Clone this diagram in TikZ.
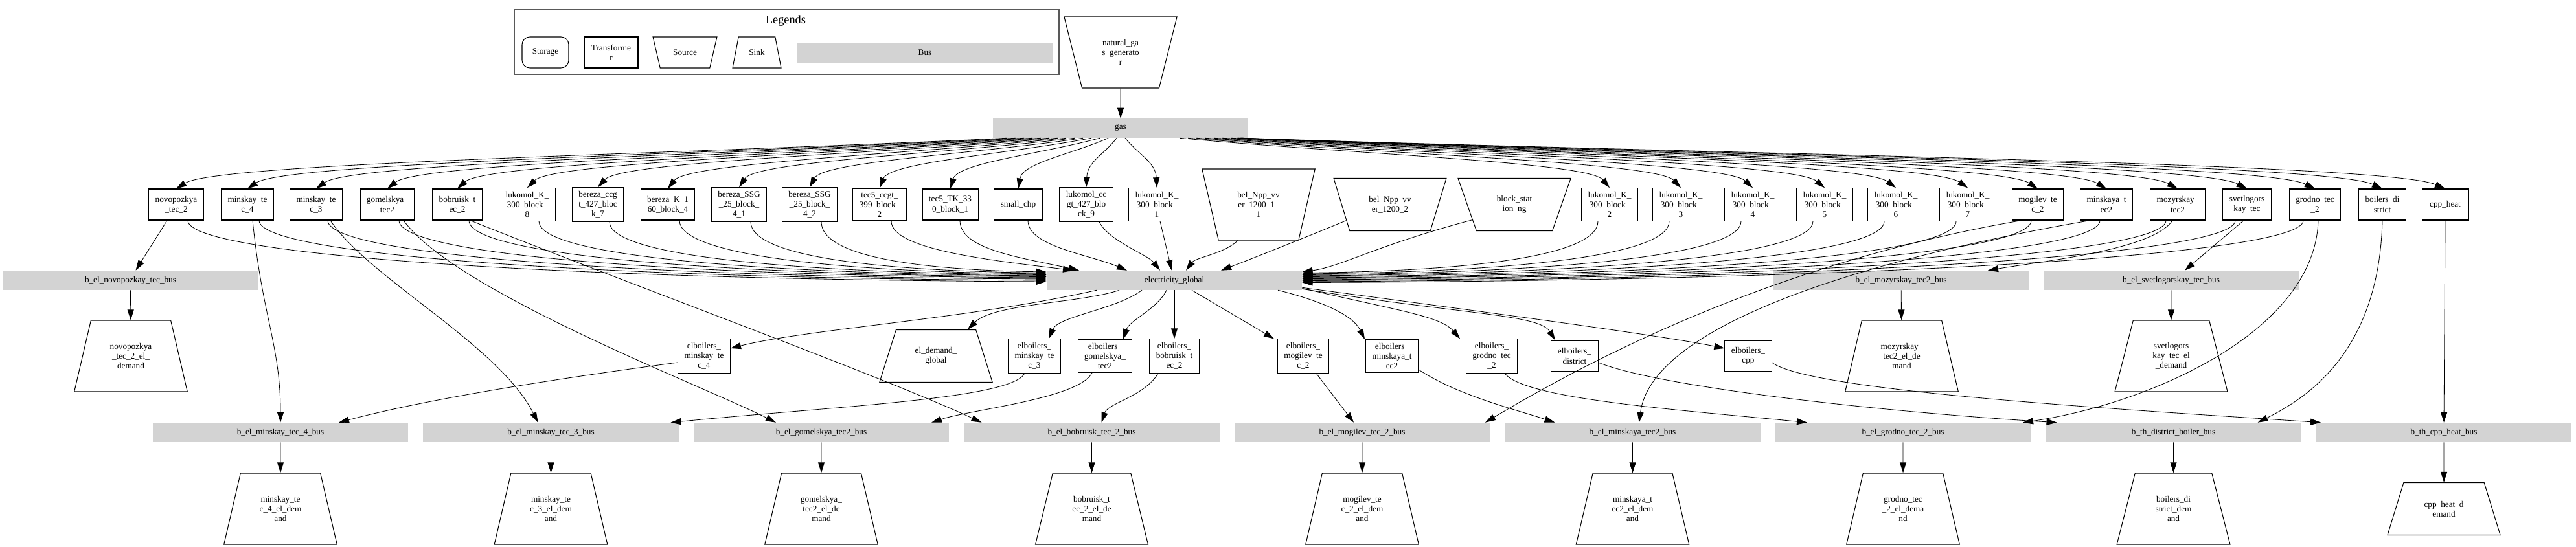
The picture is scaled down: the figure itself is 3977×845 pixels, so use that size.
\documentclass[tikz,border=0pt]{standalone}
\usepackage{fontspec}
\setmainfont{Liberation Serif}
\usetikzlibrary{arrows.meta,shapes.geometric,calc}
\definecolor{busgray}{RGB}{211,211,211}

\begin{document}
\begin{tikzpicture}[x=0.025cm,y=-0.025cm,
  font=\fontsize{9.4}{10.7}\selectfont,
  >={Triangle[length=0.4cm,width=0.25cm]},
  trafo/.style={draw,line width=0.75pt,rectangle,align=center,minimum width=1.8cm,minimum height=1.2cm,inner xsep=0.25cm,inner ysep=4pt},
  busbar/.style={fill=busgray,rectangle,minimum width=9.85cm,minimum height=0.75cm,inner sep=0pt},
  src/.style={draw,line width=0.75pt,trapezium,trapezium stretches=true,shape border rotate=180,trapezium left angle=72,trapezium right angle=72,minimum width=4.375cm,minimum height=2.75cm,align=center,inner sep=2pt},
  srcsmall/.style={src,trapezium left angle=66,trapezium right angle=66,minimum height=2.025cm},
  snk/.style={draw,line width=0.75pt,trapezium,trapezium stretches=true,trapezium left angle=72,trapezium right angle=72,minimum width=4.375cm,minimum height=2.75cm,align=center,inner sep=2pt},
  snksmall/.style={snk,trapezium left angle=66,trapezium right angle=66,minimum height=2.025cm},
  flow/.style={->,line width=0.6pt}]
\useasboundingbox (0,0) rectangle (3977,845);

\draw[line width=1pt,draw=black!65] (794,15) rectangle (1635,115);
\node[font=\fontsize{13}{15}\selectfont] (legtitle) at (1213,32) {Legends};
\node[draw,line width=0.75pt,rounded corners=0.3cm,minimum width=1.8cm,minimum height=1.2cm] (legstorage) at (842,81) {Storage};
\node[trafo,minimum width=2.075cm] (legtrafo) at (943.5,81) {Transforme\\r};
\node[src,minimum width=2.475cm,minimum height=1.2cm,trapezium left angle=67,trapezium right angle=67] (legsource) at (1057.5,81) {Source};
\node[snk,minimum width=1.875cm,minimum height=1.2cm] (legsink) at (1168.5,81) {Sink};
\node[busbar,minimum height=0.775cm] (legbus) at (1428,81.5) {Bus};

\node[src] (natgas) at (1730,81) {natural\_ga\\s\_generato\\r};
\node[busbar] (gas) at (1730,198) {gas};

\node[trafo] (novo) at (272,316) {novopozkya\\\_tec\_2};
\node[trafo] (mtecfour) at (382,316) {minskay\_te\\c\_4};
\node[trafo] (mtecthree) at (488,316) {minskay\_te\\c\_3};
\node[trafo] (gomel) at (598,316) {gomelskya\_\\tec2};
\node[trafo] (bobr) at (706,316) {bobruisk\_t\\ec\_2};
\node[trafo] (lukeight) at (814,316) {lukomol\_K\_\\300\_block\_\\8};
\node[trafo] (berccgt) at (923,316) {bereza\_ccg\\t\_427\_bloc\\k\_7};
\node[trafo] (berkone) at (1031,316) {bereza\_K\_1\\60\_block\_4};
\node[trafo] (berssgone) at (1141,316) {bereza\_SSG\\\_25\_block\_\\4\_1};
\node[trafo] (berssgtwo) at (1250,316) {bereza\_SSG\\\_25\_block\_\\4\_2};
\node[trafo] (tecccgt) at (1358,316) {tec5\_ccgt\_\\399\_block\_\\2};
\node[trafo] (tectk) at (1467,316) {tec5\_TK\_33\\0\_block\_1};
\node[trafo] (smallchp) at (1572,316) {small\_chp};
\node[trafo] (lukccgt) at (1677,316) {lukomol\_cc\\gt\_427\_blo\\ck\_9};
\node[trafo] (lukone) at (1786,316) {lukomol\_K\_\\300\_block\_\\1};
\node[src] (npone) at (1943,316) {bel\_Npp\_vv\\er\_1200\_1\_\\1};
\node[srcsmall] (nptwo) at (2146,316) {bel\_Npp\_vv\\er\_1200\_2};
\node[srcsmall] (blockst) at (2338,316) {block\_stat\\ion\_ng};
\node[trafo] (luktwo) at (2485,316) {lukomol\_K\_\\300\_block\_\\2};
\node[trafo] (lukthree) at (2595,316) {lukomol\_K\_\\300\_block\_\\3};
\node[trafo] (lukfour) at (2706,316) {lukomol\_K\_\\300\_block\_\\4};
\node[trafo] (lukfive) at (2817,316) {lukomol\_K\_\\300\_block\_\\5};
\node[trafo] (luksix) at (2927,316) {lukomol\_K\_\\300\_block\_\\6};
\node[trafo] (lukseven) at (3038,316) {lukomol\_K\_\\300\_block\_\\7};
\node[trafo] (mogilev) at (3146,316) {mogilev\_te\\c\_2};
\node[trafo] (minskaya) at (3252,316) {minskaya\_t\\ec2};
\node[trafo] (mozyr) at (3362,316) {mozyrskay\_\\tec2};
\node[trafo] (svetl) at (3469,316) {svetlogors\\kay\_tec};
\node[trafo] (grodno) at (3574,316) {grodno\_tec\\\_2};
\node[trafo] (boildist) at (3678,316) {boilers\_di\\strict};
\node[trafo] (cppheat) at (3775,316) {cpp\_heat};

\node[busbar] (bnovo) at (201.5,433) {b\_el\_novopozkay\_tec\_bus};
\node[busbar] (elglob) at (1813,433) {electricity\_global};
\node[busbar] (bmozyr) at (2935,433) {b\_el\_mozyrskay\_tec2\_bus};
\node[busbar] (bsvetl) at (3352,433) {b\_el\_svetlogorskay\_tec\_bus};

\node[snk] (novodem) at (202,550) {novopozkya\\\_tec\_2\_el\_\\demand};
\node[trafo] (ebmtecfour) at (1087,550) {elboilers\_\\minskay\_te\\c\_4};
\node[snksmall] (eldem) at (1445,550) {el\_demand\_\\global};
\node[trafo] (ebmtecthree) at (1597,550) {elboilers\_\\minskay\_te\\c\_3};
\node[trafo] (ebgomel) at (1706,550) {elboilers\_\\gomelskya\_\\tec2};
\node[trafo] (ebbobr) at (1813,550) {elboilers\_\\bobruisk\_t\\ec\_2};
\node[trafo] (ebmogilev) at (2012,550) {elboilers\_\\mogilev\_te\\c\_2};
\node[trafo] (ebminskaya) at (2149,550) {elboilers\_\\minskaya\_t\\ec2};
\node[trafo] (ebgrodno) at (2303,550) {elboilers\_\\grodno\_tec\\\_2};
\node[trafo] (ebdist) at (2431,550) {elboilers\_\\district};
\node[trafo] (ebcpp) at (2699,550) {elboilers\_\\cpp};
\node[snk] (mozyrdem) at (2936,550) {mozyrskay\_\\tec2\_el\_de\\mand};
\node[snk] (svetldem) at (3352,550) {svetlogors\\kay\_tec\_el\\\_demand};

\node[busbar] (bmtecfour) at (433,668) {b\_el\_minskay\_tec\_4\_bus};
\node[busbar] (bmtecthree) at (850.5,668) {b\_el\_minskay\_tec\_3\_bus};
\node[busbar] (bgomel) at (1268,668) {b\_el\_gomelskya\_tec2\_bus};
\node[busbar] (bbobr) at (1685.5,668) {b\_el\_bobruisk\_tec\_2\_bus};
\node[busbar] (bmogilev) at (2103,668) {b\_el\_mogilev\_tec\_2\_bus};
\node[busbar] (bminskaya) at (2520.5,668) {b\_el\_minskaya\_tec2\_bus};
\node[busbar] (bgrodno) at (2938,668) {b\_el\_grodno\_tec\_2\_bus};
\node[busbar] (bdist) at (3355.5,668) {b\_th\_district\_boiler\_bus};
\node[busbar] (bcpp) at (3773,668) {b\_th\_cpp\_heat\_bus};

\node[snk] (dmtecfour) at (433,786) {minskay\_te\\c\_4\_el\_dem\\and};
\node[snk] (dmtecthree) at (850.5,786) {minskay\_te\\c\_3\_el\_dem\\and};
\node[snk] (dgomel) at (1268,786) {gomelskya\_\\tec2\_el\_de\\mand};
\node[snk] (dbobr) at (1685.5,786) {bobruisk\_t\\ec\_2\_el\_de\\mand};
\node[snk] (dmogilev) at (2103,786) {mogilev\_te\\c\_2\_el\_dem\\and};
\node[snk] (dminskaya) at (2520.5,786) {minskaya\_t\\ec2\_el\_dem\\and};
\node[snk] (dgrodno) at (2938,786) {grodno\_tec\\\_2\_el\_dema\\nd};
\node[snk] (ddist) at (3355.5,786) {boilers\_di\\strict\_dem\\and};
\node[snksmall] (dcpp) at (3773,786) {cpp\_heat\_d\\emand};

\draw[flow] (natgas) -- (gas);

\draw[flow] ($(gas.south)+(-175,0)$) .. controls +(-513,25) and +(64,-40) .. (novo.north);
\draw[flow] ($(gas.south)+(-162,0)$) .. controls +(-474,25) and +(59,-40) .. (mtecfour.north);
\draw[flow] ($(gas.south)+(-149,0)$) .. controls +(-437,25) and +(55,-40) .. (mtecthree.north);
\draw[flow] ($(gas.south)+(-136,0)$) .. controls +(-398,25) and +(50,-40) .. (gomel.north);
\draw[flow] ($(gas.south)+(-123,0)$) .. controls +(-360,25) and +(45,-40) .. (bobr.north);
\draw[flow] ($(gas.south)+(-110,0)$) .. controls +(-322,25) and +(40,-40) .. (lukeight.north);
\draw[flow] ($(gas.south)+(-97,0)$) .. controls +(-284,25) and +(36,-40) .. (berccgt.north);
\draw[flow] ($(gas.south)+(-84,0)$) .. controls +(-246,25) and +(31,-40) .. (berkone.north);
\draw[flow] ($(gas.south)+(-71,0)$) .. controls +(-207,25) and +(26,-40) .. (berssgone.north);
\draw[flow] ($(gas.south)+(-58,0)$) .. controls +(-169,25) and +(21,-40) .. (berssgtwo.north);
\draw[flow] ($(gas.south)+(-45,0)$) .. controls +(-131,25) and +(16,-40) .. (tecccgt.north);
\draw[flow] ($(gas.south)+(-32,0)$) .. controls +(-92,25) and +(12,-40) .. (tectk.north);
\draw[flow] ($(gas.south)+(-19,0)$) .. controls +(-56,25) and +(7,-40) .. (smallchp.north);
\draw[flow] ($(gas.south)+(-6,0)$) .. controls +(-19,25) and +(2,-40) .. (lukccgt.north);
\draw[flow] ($(gas.south)+(7,0)$) .. controls +(20,25) and +(-2,-40) .. (lukone.north);
\draw[flow] ($(gas.south)+(91,0)$) .. controls +(266,25) and +(-33,-40) .. (luktwo.north);
\draw[flow] ($(gas.south)+(104,0)$) .. controls +(304,25) and +(-38,-40) .. (lukthree.north);
\draw[flow] ($(gas.south)+(117,0)$) .. controls +(344,25) and +(-43,-40) .. (lukfour.north);
\draw[flow] ($(gas.south)+(130,0)$) .. controls +(383,25) and +(-48,-40) .. (lukfive.north);
\draw[flow] ($(gas.south)+(144,0)$) .. controls +(421,25) and +(-53,-40) .. (luksix.north);
\draw[flow] ($(gas.south)+(157,0)$) .. controls +(460,25) and +(-58,-40) .. (lukseven.north);
\draw[flow] ($(gas.south)+(170,0)$) .. controls +(498,25) and +(-62,-40) .. (mogilev.north);
\draw[flow] ($(gas.south)+(180,0)$) .. controls +(537,25) and +(-67,-40) .. (minskaya.north);
\draw[flow] ($(gas.south)+(182,0)$) .. controls +(580,25) and +(-73,-40) .. (mozyr.north);
\draw[flow] ($(gas.south)+(184,0)$) .. controls +(622,25) and +(-78,-40) .. (svetl.north);
\draw[flow] ($(gas.south)+(185,0)$) .. controls +(664,25) and +(-83,-40) .. (grodno.north);
\draw[flow] ($(gas.south)+(186,0)$) .. controls +(705,25) and +(-88,-40) .. (boildist.north);
\draw[flow] ($(gas.south)+(187,0)$) .. controls +(743,25) and +(-93,-40) .. (cppheat.north);

\draw[flow] ($(novo.south)+(18,0)$) .. controls +(0,55) and +(-729,-3) .. ($(elglob.west)+(0,2)$);
\draw[flow] ($(mtecfour.south)+(18,0)$) .. controls +(0,55) and +(-669,-3) .. ($(elglob.west)+(0,0)$);
\draw[flow] ($(mtecthree.south)+(18,0)$) .. controls +(0,55) and +(-611,-3) .. ($(elglob.west)+(0,-2)$);
\draw[flow] ($(gomel.south)+(18,0)$) .. controls +(0,55) and +(-550,-3) .. ($(elglob.west)+(0,-4)$);
\draw[flow] ($(bobr.south)+(18,0)$) .. controls +(0,55) and +(-491,-3) .. ($(elglob.west)+(0,-5.5)$);
\draw[flow] ($(lukeight.south)+(18,0)$) .. controls +(0,55) and +(-431,-3) .. ($(elglob.west)+(0,-7)$);
\draw[flow] ($(berccgt.south)+(18,0)$) .. controls +(0,55) and +(-371,-3) .. ($(elglob.west)+(0,-8.5)$);
\draw[flow] ($(berkone.south)+(18,0)$) .. controls +(0,55) and +(-312,-3) .. ($(elglob.west)+(0,-10)$);
\draw[flow] ($(berssgone.south)+(18,0)$) .. controls +(0,55) and +(-251,-3) .. ($(elglob.west)+(0,-11.5)$);
\draw[flow] ($(berssgtwo.south)+(18,0)$) .. controls +(0,55) and +(-191,-3) .. ($(elglob.west)+(0,-13)$);
\draw[flow] ($(tecccgt.south)+(18,0)$) .. controls +(0,45) and +(-120,-15) .. ($(elglob.north)+(-156,0)$);
\draw[flow] ($(tectk.south)+(15,0)$) .. controls +(0,45) and +(-90,-20) .. ($(elglob.north)+(-147,0)$);
\draw[flow] ($(smallchp.south)+(15,0)$) .. controls +(0,40) and +(-60,-25) .. ($(elglob.north)+(-73,0)$);
\draw[flow] ($(lukccgt.south)+(20,0)$) .. controls +(15,30) and +(-20,-25) .. ($(elglob.north)+(-22,0)$);
\draw[flow] ($(lukone.south)+(5,0)$) -- ($(elglob.north)+(-4,0)$);
\draw[flow] (npone.240) .. controls +(-20,20) and +(15,-20) .. ($(elglob.north)+(18,0)$);
\draw[flow] (nptwo.200) .. controls +(-60,25) and +(40,-15) .. ($(elglob.north)+(72,0)$);
\draw[flow] (blockst.200) .. controls +(-150,40) and +(60,-8) .. ($(elglob.east)+(0,-13)$);
\draw[flow] ($(luktwo.south)+(-18,0)$) .. controls +(0,55) and +(251,-3) .. ($(elglob.east)+(0,-11.5)$);
\draw[flow] ($(lukthree.south)+(-18,0)$) .. controls +(0,55) and +(312,-3) .. ($(elglob.east)+(0,-10)$);
\draw[flow] ($(lukfour.south)+(-18,0)$) .. controls +(0,55) and +(373,-3) .. ($(elglob.east)+(0,-8.5)$);
\draw[flow] ($(lukfive.south)+(-18,0)$) .. controls +(0,55) and +(434,-3) .. ($(elglob.east)+(0,-7)$);
\draw[flow] ($(luksix.south)+(-18,0)$) .. controls +(0,55) and +(494,-3) .. ($(elglob.east)+(0,-5.5)$);
\draw[flow] ($(lukseven.south)+(-18,0)$) .. controls +(0,55) and +(556,-3) .. ($(elglob.east)+(0,-4)$);
\draw[flow] ($(mogilev.south)+(-10,0)$) .. controls +(0,55) and +(615,-3) .. ($(elglob.east)+(0,-2.5)$);
\draw[flow] ($(minskaya.south)+(-10,0)$) .. controls +(0,55) and +(673,-3) .. ($(elglob.east)+(0,-1)$);
\draw[flow] ($(mozyr.south)+(-18,0)$) .. controls +(0,55) and +(734,-3) .. ($(elglob.east)+(0,0.5)$);
\draw[flow] ($(svetl.south)+(-18,0)$) .. controls +(0,55) and +(793,-3) .. ($(elglob.east)+(0,2)$);
\draw[flow] ($(grodno.south)+(-18,0)$) .. controls +(0,55) and +(850,-3) .. ($(elglob.east)+(0,3.5)$);

\draw[flow] ($(novo.south)+(-14,0)$) -- ($(bnovo.north)+(8,0)$);
\draw[flow] ($(mtecfour.south)+(8,0)$) .. controls +(15,150) and +(0,-120) .. (bmtecfour.north);
\draw[flow] ($(mtecthree.south)+(22,0)$) .. controls +(60,90) and +(-60,-120) .. ($(bmtecthree.north)+(-20,0)$);
\draw[flow] ($(gomel.south)+(25,0)$) .. controls +(80,110) and +(-120,-60) .. ($(bgomel.north)+(-70,0)$);
\draw[flow] ($(bobr.south)+(20,0)$) .. controls +(250,100) and +(-150,-70) .. ($(bbobr.north)+(-170,0)$);
\draw[flow] ($(mogilev.south)+(-25,0)$) .. controls +(-350,60) and +(200,-120) .. ($(bmogilev.north)+(190,0)$);
\draw[flow] ($(minskaya.south)+(-25,0)$) .. controls +(-350,60) and +(20,-150) .. ($(bminskaya.north)+(10,0)$);
\draw[flow] ($(mozyr.south)+(-8,0)$) .. controls +(-30,45) and +(90,-15) .. ($(bmozyr.north)+(134,0)$);
\draw[flow] ($(svetl.south)+(-5,0)$) -- ($(bsvetl.north)+(21,0)$);
\draw[flow] ($(grodno.south)+(5,0)$) .. controls +(-5,170) and +(200,-30) .. ($(bgrodno.north)+(185,0)$);
\draw[flow] (boildist.south) .. controls +(-5,200) and +(80,-40) .. ($(bdist.north)+(130,0)$);
\draw[flow] (cppheat.south) -- (bcpp.north);

\draw[flow] ($(elglob.south)+(-120,0)$) .. controls +(-200,45) and +(120,-30) .. ($(ebmtecfour.east)+(0,-12)$);
\draw[flow] ($(elglob.south)+(-85,0)$) .. controls +(-60,20) and +(40,-40) .. (eldem.40);
\draw[flow] ($(elglob.south)+(-50,0)$) .. controls +(-40,30) and +(15,-35) .. ($(ebmtecthree.north)+(22,0)$);
\draw[flow] ($(elglob.south)+(-12,0)$) .. controls +(-15,30) and +(10,-30) .. ($(ebgomel.north)+(28,0)$);
\draw[flow] (elglob.south) -- (ebbobr.north);
\draw[flow] ($(elglob.south)+(27,0)$) -- ($(ebmogilev.north)+(-45,0)$);
\draw[flow] ($(elglob.south)+(160,0)$) .. controls +(60,15) and +(-20,-40) .. ($(ebminskaya.north)+(-42,0)$);
\draw[flow] ($(elglob.south east)+(0,-3)$) .. controls +(150,35) and +(-30,-35) .. ($(ebgrodno.north)+(-49,0)$);
\draw[flow] ($(elglob.south east)+(0,-2)$) .. controls +(250,40) and +(-25,-40) .. ($(ebdist.north)+(-30,0)$);
\draw[flow] ($(elglob.south east)+(0,-4)$) .. controls +(300,40) and +(-100,-20) .. ($(ebcpp.west)+(0,-12)$);

\draw[flow] ($(ebmtecfour.west)+(0,10)$) .. controls +(-150,20) and +(150,-40) .. ($(bmtecfour.north)+(90,0)$);
\draw[flow] ($(ebmtecthree.south)+(-15,0)$) .. controls +(-20,40) and +(250,-25) .. ($(bmtecthree.north)+(185,0)$);
\draw[flow] ($(ebgomel.south)+(-20,0)$) .. controls +(-20,40) and +(60,-20) .. ($(bgomel.north)+(170,0)$);
\draw[flow] ($(ebbobr.south)+(-25,0)$) .. controls +(-20,35) and +(10,-30) .. ($(bbobr.north)+(15,0)$);
\draw[flow] ($(ebmogilev.south)+(20,0)$) -- ($(bmogilev.north)+(-13,0)$);
\draw[flow] ($(ebminskaya.south east)+(0,-5)$) .. controls +(60,40) and +(-60,-20) .. ($(bminskaya.north)+(-120,0)$);
\draw[flow] ($(ebgrodno.south)+(20,0)$) .. controls +(30,40) and +(-200,-20) .. ($(bgrodno.north)+(-148,0)$);
\draw[flow] ($(ebdist.east)+(0,10)$) .. controls +(100,40) and +(-250,-15) .. ($(bdist.north)+(-180,0)$);
\draw[flow] ($(ebcpp.east)+(0,10)$) .. controls +(60,45) and +(-300,-20) .. ($(bcpp.north)+(-190,0)$);

\draw[flow] (bnovo) -- (novodem);
\draw[flow] (bmozyr) -- (mozyrdem);
\draw[flow] (bsvetl) -- (svetldem);
\draw[flow] (bmtecfour) -- (dmtecfour);
\draw[flow] (bmtecthree) -- (dmtecthree);
\draw[flow] (bgomel) -- (dgomel);
\draw[flow] (bbobr) -- (dbobr);
\draw[flow] (bmogilev) -- (dmogilev);
\draw[flow] (bminskaya) -- (dminskaya);
\draw[flow] (bgrodno) -- (dgrodno);
\draw[flow] (bdist) -- (ddist);
\draw[flow] (bcpp) -- (dcpp);
\end{tikzpicture}
\end{document}
